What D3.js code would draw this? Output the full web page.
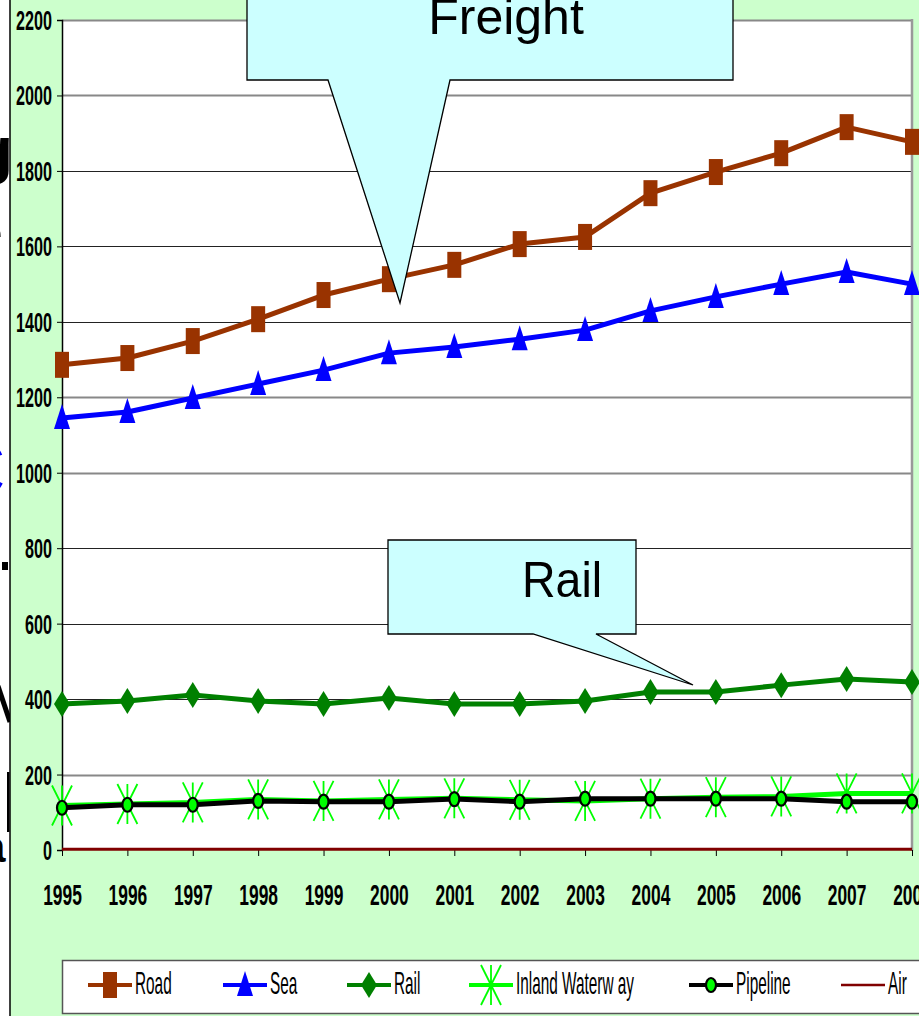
<!DOCTYPE html>
<html><head><meta charset="utf-8">
<script src="https://cdn.jsdelivr.net/npm/d3@7/dist/d3.min.js"></script>
<style>
html,body{margin:0;padding:0;background:#fff;overflow:hidden}
svg{display:block}
</style></head>
<body><svg id="c" width="919" height="1016"></svg>
<script>
const years = [1995,1996,1997,1998,1999,2000,2001,2002,2003,2004,2005,2006,2007,2008];
const road = [1286,1304,1349,1407,1471,1513,1551,1606,1625,1741,1797,1847,1916,1877];
const sea = [1145,1161,1198,1235,1272,1317,1333,1354,1378,1429,1466,1500,1532,1500];
const rail = [387,395,411,395,387,403,387,387,395,419,419,437,453,445];
const inland = [118,122,126,134,130,134,137,133,130,136,140,142,150,150];
const pipeline = [112,120,120,130,128,128,135,128,136,136,136,136,128,128];
const air = [2,2,2,2,2,2,2,2,2,2,2,2,2,2];
const yTicks = [0,200,400,600,800,1000,1200,1400,1600,1800,2000,2200];
const seriesNames = ["Road","Sea","Rail","Inland Waterw ay","Pipeline","Air"];

const FONT = "Liberation Sans, Arial, sans-serif";
const svg = d3.select("#c");
const defs = svg.append("defs");
defs.append("clipPath").attr("id","lc").append("rect").attr("x",0).attr("y",0).attr("width",10).attr("height",1016);

// left slide remnants (cut off by the panel)
const lt = svg.append("g").attr("clip-path","url(#lc)").attr("font-family",FONT);
lt.append("text").attr("x",-26).attr("y",172).attr("font-size",64).attr("font-weight","bold").text("g");
lt.append("text").attr("x",-26).attr("y",250).attr("font-size",52).text("e");
lt.append("text").attr("x",-27).attr("y",305).attr("font-size",52).text("o");
lt.append("text").attr("x",-52).attr("y",497).attr("font-size",80).attr("fill","#0000ff").text("C");
lt.append("rect").attr("x",2).attr("y",562).attr("width",6).attr("height",8).attr("fill","#000");
lt.append("line").attr("x1",-2).attr("y1",686).attr("x2",10).attr("y2",722).attr("stroke","#000").attr("stroke-width",5);
lt.append("rect").attr("x",7).attr("y",772).attr("width",2.5).attr("height",60).attr("fill","#000");
lt.append("text").attr("x",-19).attr("y",862).attr("font-size",44).attr("font-weight","bold").text("a");

// green panel
svg.append("rect").attr("x",10).attr("y",0).attr("width",909).attr("height",1016).attr("fill","#ccffcc");
svg.append("line").attr("x1",10).attr("x2",10).attr("y1",0).attr("y2",1016).attr("stroke","#000").attr("stroke-width",1.5);

const x = d3.scaleLinear().domain([1995,2008]).range([62,912]);
const y = d3.scaleLinear().domain([0,2200]).range([850,20]);

// plot area
svg.append("rect").attr("x",62).attr("y",20).attr("width",850).attr("height",830).attr("fill","#fff");
const lightGrid = [2200,2000,1200,1000,200];
svg.append("g").selectAll("line").data(yTicks.filter(d=>d>0)).join("line")
  .attr("x1",62).attr("x2",912).attr("y1",d=>Math.round(y(d))+0.5).attr("y2",d=>Math.round(y(d))+0.5)
  .attr("stroke",d=>lightGrid.includes(d)?"#888":"#222").attr("stroke-width",d=>lightGrid.includes(d)?2:1);
svg.append("line").attr("x1",912).attr("x2",912).attr("y1",19).attr("y2",851).attr("stroke","#999").attr("stroke-width",2.5);

// axes
const yAxis = d3.axisLeft(y).tickValues(yTicks).tickSize(5).tickFormat(d3.format("d"));
const gy = svg.append("g").attr("transform","translate(62,0)").call(yAxis);
gy.select(".domain").attr("stroke","#000").attr("stroke-width",1.5);
gy.selectAll("line").attr("stroke","#000");
gy.selectAll("text").attr("x",0).attr("dy",null).attr("y",9.5)
  .attr("transform","translate(-10,0) scale(0.6,1)")
  .attr("font-family",FONT).attr("font-size",27).attr("font-weight","bold").attr("fill","#000");
gy.attr("font-family",null).attr("font-size",null);

const xAxis = d3.axisBottom(x).tickValues(years).tickSize(6).tickFormat(d3.format("d"));
const gx = svg.append("g").attr("transform","translate(0,850)").call(xAxis);
gx.select(".domain").remove();
gx.selectAll("line").attr("stroke","#000");
gx.selectAll("text").attr("y",0).attr("dy",null)
  .attr("transform","translate(0,55) scale(0.58,1)")
  .attr("font-family",FONT).attr("font-size",30).attr("font-weight","bold").attr("fill","#000");
gx.attr("font-family",null).attr("font-size",null);

const line = d3.line().x((d,i)=>x(years[i])).y(d=>y(d));
function markerSquare(g,c){g.append("rect").attr("x",-7).attr("y",-13).attr("width",14).attr("height",26).attr("fill",c);}
function markerTri(g,c){g.append("path").attr("d","M0,-14L8,11L-8,11Z").attr("fill",c);}
function markerDia(g,c){g.append("path").attr("d","M0,-13L8,0L0,13L-8,0Z").attr("fill",c);}
function markerStar(g,c){g.append("path").attr("d","M-10,-20L10,20M10,-20L-10,20M0,-20L0,20").attr("stroke",c).attr("stroke-width",1.8).attr("fill","none");}
function markerCirc(g,c){g.append("ellipse").attr("rx",5).attr("ry",7).attr("fill","#00ff00").attr("stroke","#000").attr("stroke-width",2.2);}

function drawSeries(data,color,w,marker){
  const g = svg.append("g");
  g.append("path").datum(data).attr("d",line).attr("fill","none").attr("stroke",color).attr("stroke-width",w).attr("stroke-linejoin","round");
  if(marker){
    data.forEach((d,i)=>{const m=g.append("g").attr("transform",`translate(${x(years[i])},${y(d)})`); marker(m,color);});
  }
}
drawSeries(air,"#800000",3,null);
drawSeries(inland,"#00ff00",5,markerStar);
drawSeries(pipeline,"#000",5,markerCirc);
drawSeries(rail,"#008000",5,markerDia);
drawSeries(sea,"#0000ff",5,markerTri);
drawSeries(road,"#993300",5,markerSquare);

// callouts
function callout(pts,tx,ty,label,sx){
  svg.append("path").attr("d","M"+pts.map(p=>p.join(",")).join("L")+"Z").attr("fill","#ccffff").attr("stroke","#000").attr("stroke-width",1.3);
  svg.append("text").attr("transform",`translate(${tx},${ty}) scale(${sx},1)`).attr("font-family",FONT).attr("font-size",50).attr("text-anchor","middle").text(label);
}
callout([[247,-10],[733,-10],[733,80],[450,80],[400,303],[328,80],[247,80]],506,34,"Freight",1);
callout([[388,540],[636,540],[636,634],[596,634],[693,685],[533,634],[388,634]],562,597,"Rail",0.93);

// legend
svg.append("rect").attr("x",62.5).attr("y",960.5).attr("width",870).attr("height",53).attr("fill","#fff").attr("stroke","#555").attr("stroke-width",1.5);
const legItems = [
  {n:seriesNames[0],c:"#993300",m:markerSquare,x:88},
  {n:seriesNames[1],c:"#0000ff",m:markerTri,x:223},
  {n:seriesNames[2],c:"#008000",m:markerDia,x:347},
  {n:seriesNames[3],c:"#00ff00",m:markerStar,x:469},
  {n:seriesNames[4],c:"#000",m:markerCirc,x:689},
  {n:seriesNames[5],c:"#800000",m:null,x:841}
];
legItems.forEach(it=>{
  const g = svg.append("g").attr("transform",`translate(${it.x},985)`);
  g.append("line").attr("x1",0).attr("x2",44).attr("stroke",it.c).attr("stroke-width",it.m?4:2.5);
  if(it.m){const m=g.append("g").attr("transform","translate(22,0)"); it.m(m,it.c);}
  g.append("text").attr("transform","translate(47,9) scale(0.48,1)").attr("font-family",FONT).attr("font-size",32).attr("fill","#000").text(it.n);
});
</script></body></html>
